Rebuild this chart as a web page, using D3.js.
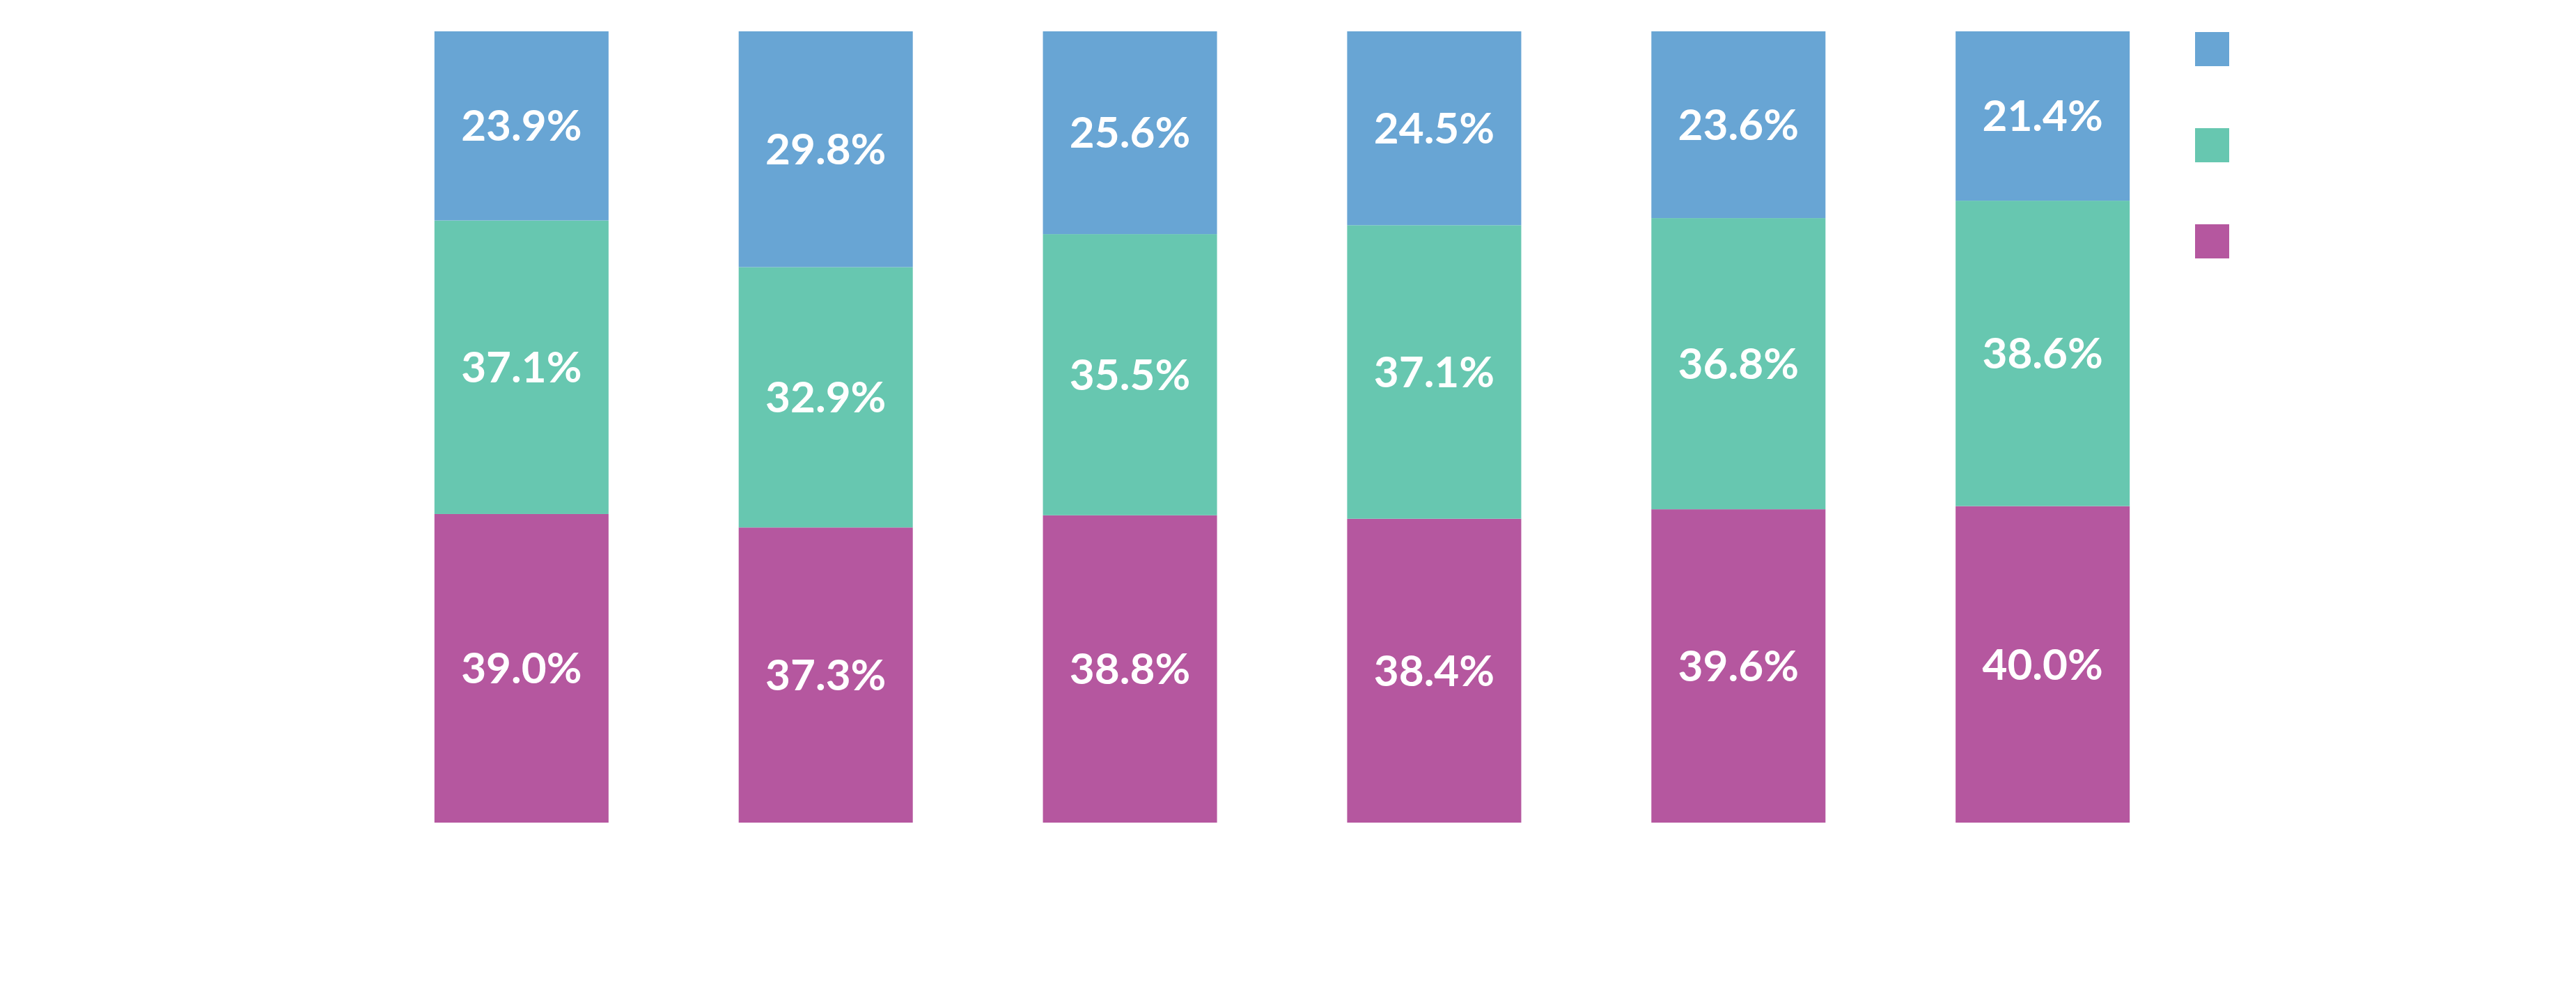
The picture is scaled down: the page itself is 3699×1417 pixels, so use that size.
<!DOCTYPE html>
<html>
<head>
<meta charset="utf-8">
<script src="https://cdn.jsdelivr.net/npm/d3@7"></script>
<style>
  html, body { margin: 0; padding: 0; background: #fff; }
  svg { display: block; }
</style>
</head>
<body>
<svg id="chart"></svg>
<script>
// chart data
const categories = ['1', '2', '3', '4', '5', '6'];
const seriesKeys = ['bottom', 'middle', 'top'];
const bottomValues = [39.0, 37.3, 38.8, 38.4, 39.6, 40.0];
const middleValues = [37.1, 32.9, 35.5, 37.1, 36.8, 38.6];
const topValues = [23.9, 29.8, 25.6, 24.5, 23.6, 21.4];
const seriesColors = ['#b5579f', '#67c7b0', '#68a5d4'];

const width = 3699;
const height = 1417;

// rows for d3.stack
const rows = categories.map((c, i) => ({
  category: c,
  bottom: bottomValues[i],
  middle: middleValues[i],
  top: topValues[i]
}));

const svg = d3.select('#chart')
  .attr('width', width)
  .attr('height', height);

const x = d3.scaleBand()
  .domain(categories)
  .range([437, 3245])
  .padding(0.4277);

// 100% stacked: every bar fills the full height
const y = d3.scaleLinear()
  .domain([0, 1])
  .range([1181, 45]);

const color = d3.scaleOrdinal()
  .domain(seriesKeys)
  .range(seriesColors);

const stacked = d3.stack()
  .keys(seriesKeys)
  .offset(d3.stackOffsetExpand)(rows);

const layers = svg.append('g')
  .selectAll('g')
  .data(stacked)
  .enter().append('g')
  .attr('fill', d => color(d.key));

layers.selectAll('rect')
  .data(d => d)
  .enter().append('rect')
  .attr('x', d => x(d.data.category))
  .attr('y', d => y(d[1]))
  .attr('width', x.bandwidth())
  .attr('height', d => y(d[0]) - y(d[1]));

// value labels, centred in each segment
layers.selectAll('text')
  .data(d => d.map(p => ({ p, key: d.key })))
  .enter().append('text')
  .attr('x', d => x(d.p.data.category) + x.bandwidth() / 2)
  .attr('y', d => (y(d.p[0]) + y(d.p[1])) / 2)
  .attr('dy', '0.35em')
  .attr('text-anchor', 'middle')
  .attr('fill', '#ffffff')
  .style('font-family', 'Lato, "Open Sans", sans-serif')
  .style('font-weight', 700)
  .style('font-size', '62px')
  .text(d => d.p.data[d.key].toFixed(1) + '%');

// legend swatches (no labels in the reference)
const legendY = d3.scalePoint()
  .domain(seriesKeys.slice().reverse())
  .range([46, 322]);

svg.append('g')
  .selectAll('rect')
  .data(seriesKeys)
  .enter().append('rect')
  .attr('x', 3152)
  .attr('y', d => legendY(d))
  .attr('width', 49)
  .attr('height', 49)
  .attr('fill', d => color(d));
</script>
</body>
</html>
